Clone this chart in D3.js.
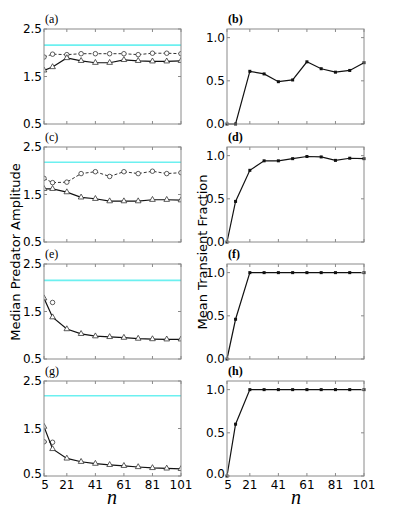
<!DOCTYPE html>
<html><head><meta charset="utf-8">
<script src="https://cdn.jsdelivr.net/npm/d3@7"></script>
<style>body{margin:0;background:#fff}svg{display:block}</style>
</head><body>
<script>
const nValues = [5,11,21,31,41,51,61,71,81,91,101];
const xTicks = [5,21,41,61,81,101];
const ampTicks = [0.5,1.5,2.5];
const fracTicks = [0,0.5,1.0];
const panelLabels = ["(a)","(b)","(c)","(d)","(e)","(f)","(g)","(h)"];

const ampTriA = [1.63,1.70,1.89,1.83,1.79,1.79,1.85,1.83,1.82,1.82,1.83];
const ampCircA = [1.91,1.97,1.96,1.98,1.98,1.98,1.98,1.96,1.99,1.99,1.98];
const ampTriC = [1.62,1.62,1.55,1.44,1.41,1.36,1.36,1.36,1.39,1.39,1.38];
const ampCircC = [1.84,1.75,1.76,1.94,1.98,1.88,1.98,1.94,1.99,1.94,1.96];
const ampTriE = [1.78,1.38,1.13,1.03,0.98,0.965,0.95,0.93,0.92,0.915,0.915];
const ampCircE = [null,1.69,null,null,null,null,null,null,null,null,null];
const ampTriG = [1.54,1.07,0.87,0.80,0.76,0.735,0.715,0.69,0.67,0.66,0.65];
const ampCircG = [1.22,1.21,null,null,null,null,null,null,null,null,null];
const cyanLevels = [2.16,2.18,2.155,2.19];

const fracB = [0,0,0.61,0.58,0.49,0.51,0.72,0.64,0.60,0.62,0.71];
const fracD = [0,0.47,0.83,0.94,0.94,0.965,0.99,0.985,0.945,0.97,0.965];
const fracF = [0,0.46,1,1,1,1,1,1,1,1,1];
const fracH = [0,0.60,1,1,1,1,1,1,1,1,1];

const W=399,H=513;
const svg=d3.select("body").append("svg").attr("width",W).attr("height",H);
const rowTops=[29,147,264,381], ph=95;
const leftX=[44,181], rightX=[227,364];
const tri=[ampTriA,ampTriC,ampTriE,ampTriG];
const circ=[ampCircA,ampCircC,ampCircE,ampCircG];
const frac=[fracB,fracD,fracF,fracH];
const frameCol="#8a8a8a";

function frame(g,x,y,xt,yt,bottomLabels,yfmt){
  const [x0,x1]=x.range(), [y1,y0]=y.range();
  xt.forEach(t=>{
    g.append("line").attr("x1",x(t)).attr("x2",x(t)).attr("y1",y1).attr("y2",y1-3).attr("stroke",frameCol);
    g.append("line").attr("x1",x(t)).attr("x2",x(t)).attr("y1",y0).attr("y2",y0+3).attr("stroke",frameCol);
  });
  yt.forEach(t=>{
    g.append("line").attr("x1",x0).attr("x2",x0+3).attr("y1",y(t)).attr("y2",y(t)).attr("stroke",frameCol);
    g.append("line").attr("x1",x1).attr("x2",x1-3).attr("y1",y(t)).attr("y2",y(t)).attr("stroke",frameCol);
    g.append("text").attr("x",x0-2).attr("y",y(t)).attr("dy",(bottomLabels&&t===yt[0])?"0.2em":"0.36em").attr("text-anchor","end")
     .attr("font-family","DejaVu Sans").attr("font-size",12).text(yfmt(t));
  });
  if(bottomLabels){
    xt.forEach(t=>{
      g.append("text").attr("x",x(t)+(t===xt[0]?1:0)).attr("y",y1+13).attr("text-anchor","middle")
       .attr("font-family","DejaVu Sans").attr("font-size",12).text(t);
    });
  }
  g.append("rect").attr("x",x0).attr("y",y0).attr("width",x1-x0).attr("height",y1-y0)
   .attr("fill","none").attr("stroke",frameCol).attr("stroke-width",1);
}

const triPath=d3.symbol().type(d3.symbolTriangle).size(14)();
const circPath=d3.symbol().type(d3.symbolCircle).size(16)();

for(let r=0;r<4;r++){
  const top=rowTops[r];
  {
    const x=d3.scaleLinear().domain([5,101]).range(leftX);
    const y=d3.scaleLinear().domain([0.5,2.5]).range([top+ph,top]);
    const g=svg.append("g");
    const cid="clipL"+r;
    g.append("clipPath").attr("id",cid).append("rect").attr("x",leftX[0]).attr("y",top).attr("width",leftX[1]-leftX[0]).attr("height",ph);
    const pg=g.append("g").attr("clip-path",`url(#${cid})`);
    pg.append("line").attr("x1",leftX[0]).attr("x2",leftX[1]).attr("y1",y(cyanLevels[r])).attr("y2",y(cyanLevels[r]))
      .attr("stroke","#6cf0f0").attr("stroke-width",1.6);
    const line=d3.line().defined(d=>d[1]!=null).x(d=>x(d[0])).y(d=>y(d[1]));
    const cdata=nValues.map((n,i)=>[n,circ[r][i]]);
    pg.append("path").attr("d",line(cdata)).attr("fill","none").attr("stroke","#333").attr("stroke-width",1).attr("stroke-dasharray","3,2");
    cdata.filter(d=>d[1]!=null).forEach(d=>{
      pg.append("path").attr("d",circPath).attr("transform",`translate(${x(d[0])},${y(d[1])})`).attr("fill","#fff").attr("stroke","#333").attr("stroke-width",0.8);
    });
    const tdata=nValues.map((n,i)=>[n,tri[r][i]]);
    pg.append("path").attr("d",line(tdata)).attr("fill","none").attr("stroke","#111").attr("stroke-width",1.2);
    tdata.forEach(d=>{
      pg.append("path").attr("d",triPath).attr("transform",`translate(${x(d[0])},${y(d[1])})`).attr("fill","#fff").attr("stroke","#333").attr("stroke-width",0.8);
    });
    frame(g,x,y,xTicks,ampTicks,r===3,d3.format(".1f"));
    g.append("text").attr("x",leftX[0]+1).attr("y",top-6).attr("font-family","Liberation Serif").attr("font-size",12).text(panelLabels[r*2]);
  }
  {
    const x=d3.scaleLinear().domain([5,101]).range(rightX);
    const y=d3.scaleLinear().domain([0,1.1]).range([top+ph,top]);
    const g=svg.append("g");
    const cid="clipR"+r;
    g.append("clipPath").attr("id",cid).append("rect").attr("x",rightX[0]-2).attr("y",top-2).attr("width",rightX[1]-rightX[0]+4).attr("height",ph+4);
    const pg=g.append("g").attr("clip-path",`url(#${cid})`);
    const data=nValues.map((n,i)=>[n,frac[r][i]]);
    const line=d3.line().x(d=>x(d[0])).y(d=>y(d[1]));
    pg.append("path").attr("d",line(data)).attr("fill","none").attr("stroke","#111").attr("stroke-width",1.2);
    data.forEach(d=>{
      pg.append("rect").attr("x",x(d[0])-1.5).attr("y",y(d[1])-1.5).attr("width",3).attr("height",3).attr("fill","#111");
    });
    frame(g,x,y,xTicks,fracTicks,r===3,d3.format(".1f"));
    g.append("text").attr("x",rightX[0]+1).attr("y",top-6).attr("font-family","Liberation Serif").attr("font-size",12).attr("font-weight","bold").text(panelLabels[r*2+1]);
  }
}
svg.append("text").attr("transform",`translate(20,252) rotate(-90)`).attr("text-anchor","middle")
  .attr("font-family","DejaVu Sans").attr("font-size",13).text("Median Predator Amplitude");
svg.append("text").attr("transform",`translate(207,252) rotate(-90)`).attr("text-anchor","middle")
  .attr("font-family","DejaVu Sans").attr("font-size",13).text("Mean Transient Fraction");
svg.append("text").attr("x",112).attr("y",504).attr("text-anchor","middle").attr("font-family","Liberation Serif").attr("font-style","italic").attr("font-size",20).text("n");
svg.append("text").attr("x",296).attr("y",504).attr("text-anchor","middle").attr("font-family","Liberation Serif").attr("font-style","italic").attr("font-size",20).text("n");
</script>
</body></html>
